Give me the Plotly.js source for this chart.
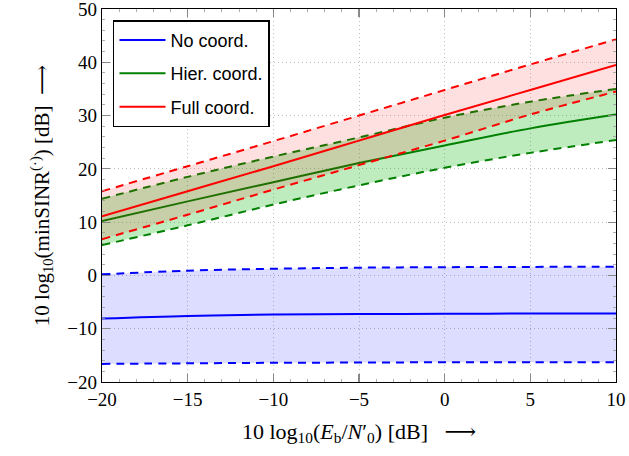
<!DOCTYPE html>
<html>
<head>
<meta charset="utf-8">
<script src="https://cdn.plot.ly/plotly-3.0.1.min.js"></script>
<style>html,body{margin:0;padding:0;background:#fff}#chart{width:629px;height:456px}</style>
</head>
<body>
<div id="chart"></div>
<script>
// Data
const snr = [-20, -15, -10, -5, 0, 5, 10];
const noMean  = [-8.1, -7.6, -7.35, -7.25, -7.2, -7.15, -7.15];
const noUpper = [0.2, 0.9, 1.25, 1.45, 1.55, 1.6, 1.65];
const noLower = [-16.6, -16.5, -16.4, -16.35, -16.3, -16.3, -16.3];
const hierMean  = [10.2, 13.9, 17.5, 21.1, 24.4, 27.6, 30.2];
const hierUpper = [14.4, 18.5, 22.3, 25.9, 29.6, 32.6, 35.0];
const hierLower = [5.7, 9.4, 13.3, 16.9, 20.2, 23.0, 25.4];
const fullMean  = [11.1, 15.8, 20.5, 25.3, 30.1, 34.8, 39.5];
const fullUpper = [15.8, 20.5, 25.2, 30.0, 34.8, 39.6, 44.3];
const fullLower = [6.8, 11.4, 16.1, 20.7, 25.3, 30.2, 34.5];
const seriesNames = ['No coord.', 'Hier. coord.', 'Full coord.'];

const groups = [
  {name: seriesNames[0], mean: noMean, up: noUpper, lo: noLower, color: 'rgb(0,0,255)', fill: 'rgba(0,0,255,0.135)'},
  {name: seriesNames[1], mean: hierMean, up: hierUpper, lo: hierLower, color: 'rgb(0,128,0)', fill: 'rgba(0,178,0,0.25)'},
  {name: seriesNames[2], mean: fullMean, up: fullUpper, lo: fullLower, color: 'rgb(255,0,0)', fill: 'rgba(255,0,0,0.12)'}
];

const traces = [];
groups.forEach((g, i) => {
  traces.push({x: snr, y: g.lo, mode: 'lines', showlegend: false, hoverinfo: 'skip', legendgroup: 'g' + i,
    line: {color: g.color, width: 2, dash: '8px,6px', shape: 'spline'}});
  traces.push({x: snr, y: g.up, mode: 'lines', showlegend: false, hoverinfo: 'skip', legendgroup: 'g' + i,
    fill: 'tonexty', fillcolor: g.fill,
    line: {color: g.color, width: 2, dash: '8px,6px', shape: 'spline'}});
  traces.push({x: snr, y: g.mean, mode: 'lines', name: g.name, legendgroup: 'g' + i,
    line: {color: g.color, width: 2, shape: 'spline'}});
});

const serif = 'Liberation Serif, DejaVu Serif, serif';
const axisCommon = {
  showline: true, linecolor: '#000', linewidth: 1.2, mirror: 'ticks',
  ticks: 'inside', ticklen: 8, tickwidth: 1.2, tickcolor: '#888',
  showgrid: true, gridcolor: '#bdbdbd', griddash: '1px,3px', gridwidth: 1,
  zeroline: false, ticklabeloverflow: 'allow',
  tickfont: {family: serif, size: 19, color: '#000'},
  minor: {ticks: 'inside', ticklen: 3, tickcolor: '#999', tickwidth: 0.8, showgrid: false}
};

const layout = {
  width: 629, height: 456,
  margin: {l: 102, r: 13, t: 9, b: 74},
  paper_bgcolor: '#fff', plot_bgcolor: '#fff',
  showlegend: true,
  legend: {
    x: 0.0214, y: 0.97, xanchor: 'left', yanchor: 'top',
    traceorder: 'grouped',
    bgcolor: '#fff', bordercolor: '#000', borderwidth: 1.5,
    font: {family: 'Liberation Sans, Arial, sans-serif', size: 18, color: '#000'},
    itemwidth: 46, tracegroupgap: 7
  },
  xaxis: Object.assign({}, axisCommon, {
    range: [-20, 10], dtick: 5, tick0: -20,
    title: {text: '10 log<sub>10</sub>(<i>E</i><sub>b</sub>/<i>N</i>′<sub>0</sub>) [dB]\u00a0\u00a0 ⟶', font: {family: serif, size: 22, color: '#000'}, standoff: 14}
  }),
  yaxis: Object.assign({}, axisCommon, {
    range: [-20, 50], dtick: 10, tick0: -20,
    title: {text: '10 log<sub>10</sub>(minSINR<sup>(·)</sup>) [dB]\u00a0 ⟶', font: {family: serif, size: 21, color: '#000'}, standoff: 12}
  })
};

Plotly.newPlot('chart', traces, layout, {displayModeBar: false, staticPlot: true});
</script>
</body>
</html>
